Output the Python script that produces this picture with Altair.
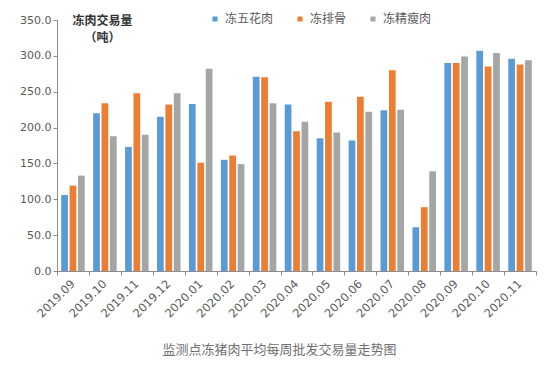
import altair as alt
import pandas as pd

months = ["2019.09", "2019.10", "2019.11", "2019.12", "2020.01", "2020.02", "2020.03",
          "2020.04", "2020.05", "2020.06", "2020.07", "2020.08", "2020.09", "2020.10", "2020.11"]
series_names = ["冻五花肉", "冻排骨", "冻精瘦肉"]
pork_belly = [106, 220, 173, 215, 233, 155, 271, 232, 185, 182, 224, 61, 290, 307, 296]
ribs = [119, 234, 248, 232, 151, 161, 270, 195, 236, 243, 280, 89, 290, 285, 288]
lean = [133, 188, 190, 248, 282, 149, 234, 208, 193, 222, 225, 139, 299, 304, 294]
colors = ["#5B9BD5", "#ED7D31", "#A5A5A5"]
y_ticks = [0, 50, 100, 150, 200, 250, 300, 350]

rows = []
for name, vals in zip(series_names, [pork_belly, ribs, lean]):
    for m, v in zip(months, vals):
        rows.append({"month": m, "series": name, "value": v})
df = pd.DataFrame(rows)

grey = "#595959"
axis_col = "#8C8C8C"

chart = alt.Chart(df).mark_bar().encode(
    x=alt.X("month:N", sort=months,
            scale=alt.Scale(paddingInner=0, paddingOuter=0),
            axis=alt.Axis(title=None, labelAngle=-45, labelAlign="right", labelBaseline="middle",
                          labelFontSize=11.5, labelColor=grey, labelFont="DejaVu Sans",
                          tickBand="extent", tickSize=4, tickColor=axis_col,
                          domainColor=axis_col, labelPadding=7)),
    xOffset=alt.XOffset("series:N", sort=series_names,
                        scale=alt.Scale(paddingInner=0.2, paddingOuter=0.5)),
    y=alt.Y("value:Q", scale=alt.Scale(domain=[0, 350], nice=False),
            axis=alt.Axis(values=y_ticks, format=".1f", grid=False,
                          labelFontSize=11, labelColor=grey, labelFont="DejaVu Sans",
                          tickSize=4, tickColor=axis_col, domainColor=axis_col,
                          title=["冻肉交易量", "（吨）"], titleAngle=0, titleAlign="center",
                          titleBaseline="middle", titleX=45, titleY=0,
                          titleFont="Noto Sans CJK SC", titleFontSize=12, titleFontWeight="bold",
                          titleColor="#333333", titleLineHeight=17)),
    color=alt.Color("series:N", sort=series_names,
                    scale=alt.Scale(domain=series_names, range=colors),
                    legend=alt.Legend(title=None, orient="none", direction="horizontal",
                                      legendX=152, legendY=-7, symbolType="square",
                                      symbolSize=25, symbolStrokeWidth=0,
                                      labelFontSize=12, labelColor=grey,
                                      labelFont="Noto Sans CJK SC", columnPadding=20,
                                      labelOffset=4, padding=0)),
).properties(
    width=479,
    height=251,
    title=alt.TitleParams("监测点冻猪肉平均每周批发交易量走势图", orient="bottom", anchor="middle",
                          fontSize=13, fontWeight="normal", color="#707070",
                          font="Noto Sans CJK SC", offset=24, dx=-17),
    autosize=alt.AutoSizeParams(type="none"),
    padding={"left": 57, "top": 20, "right": 19, "bottom": 105},
).configure_view(stroke=None)

chart.save("out.html", embed_options={"renderer": "svg", "actions": False})
